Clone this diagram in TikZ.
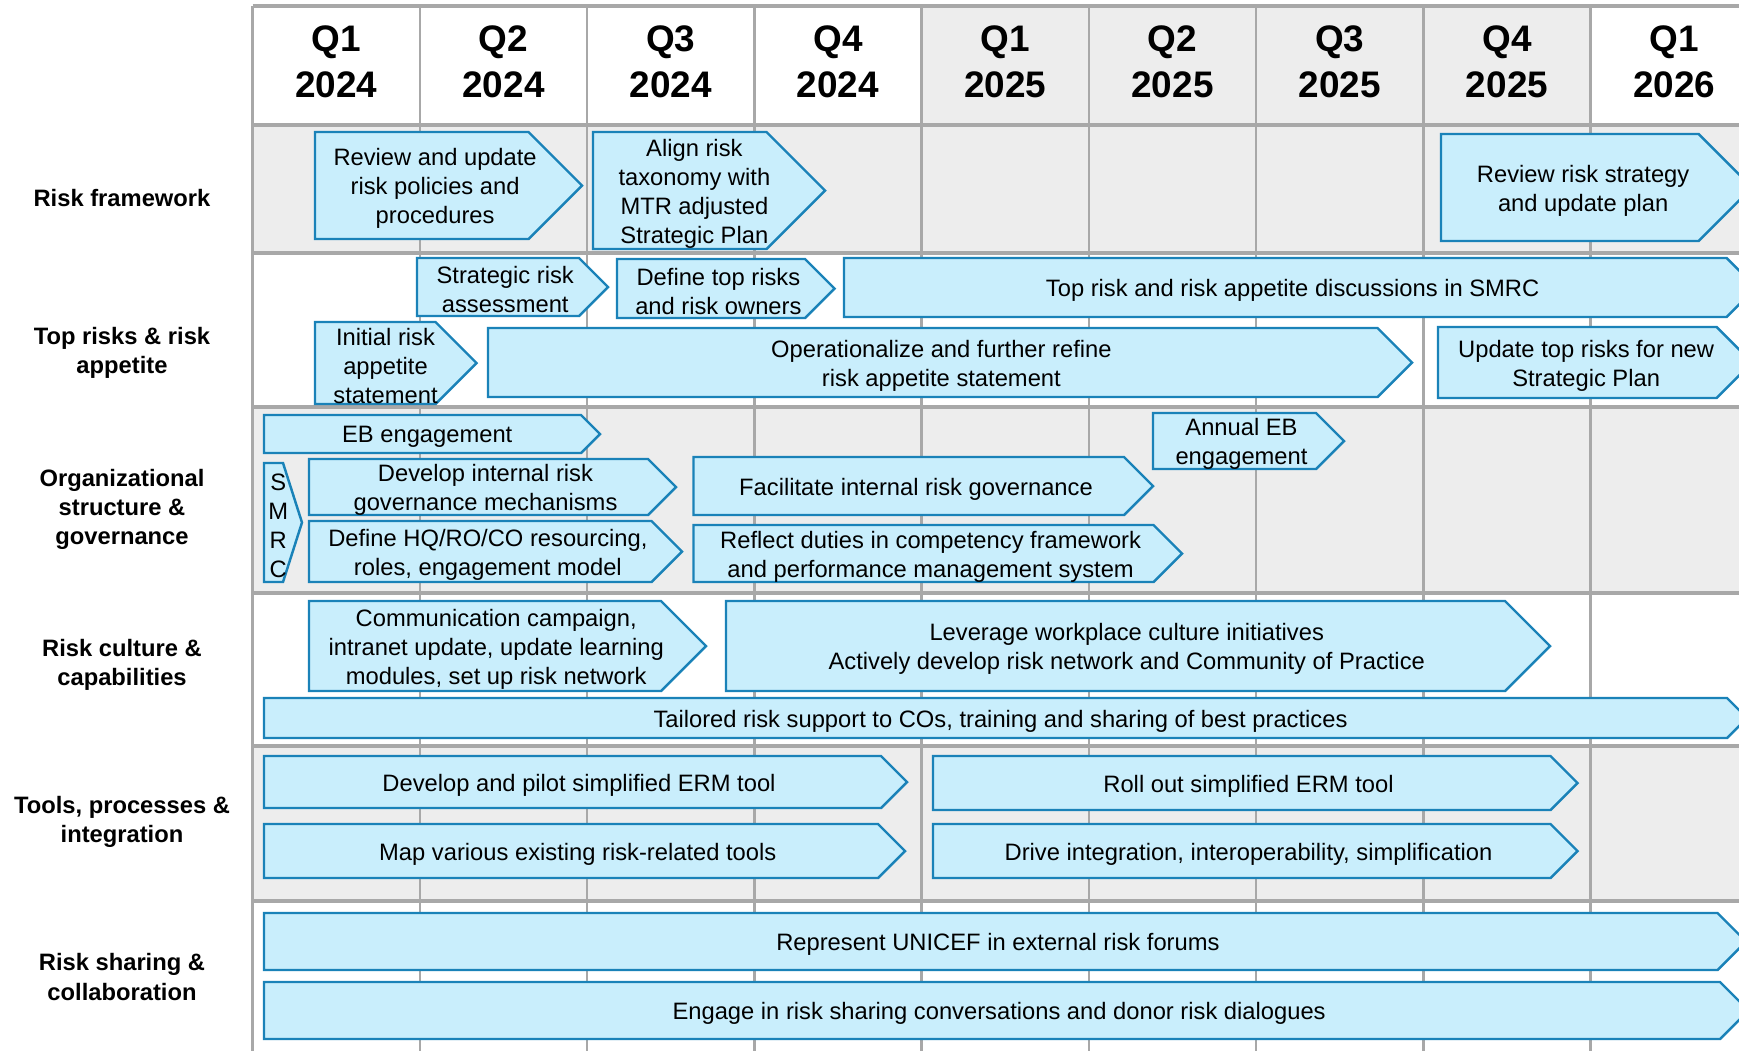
\documentclass[tikz,border=0pt]{standalone}
\usepackage{fontspec}
\setmainfont{Liberation Sans}
\usepackage{tikz}

\definecolor{gridgray}{HTML}{A8A8A8}
\definecolor{cellgray}{HTML}{EDEDED}
\definecolor{phasefill}{HTML}{C9EEFC}
\definecolor{phaseline}{HTML}{1A82B8}

% #1 名字, #2 左边, #3 箭头尖, #4 上边, #5 下边, #6 文字
\newcommand{\riskstep}[6]{%
    \pgfmathsetmacro{\stepd}{min(#3-#2,#5-#4)/2}%
    \pgfmathsetmacro{\stepm}{(#4+#5)/2}%
    \pgfmathsetmacro{\stepc}{(#2+#3-\stepd/2)/2}%
    \draw[phase] (#2,#4) -- ({#3-\stepd},#4) -- (#3,\stepm) -- ({#3-\stepd},#5) -- (#2,#5) -- cycle;
    \node[phasetext] (#1) at (\stepc,\stepm+3) {#6};
}

\begin{document}
\begin{tikzpicture}[x=0.01cm,y=-0.01cm,
    phase/.style={fill=phasefill,draw=phaseline,line width=0.7pt},
    phasetext/.style={align=center,inner sep=0pt,font=\fontsize{6.75}{8.25}\selectfont},
    rowlabel/.style={align=center,inner sep=0pt,font=\fontsize{6.75}{8.25}\selectfont\bfseries},
    quarter/.style={align=center,inner sep=0pt,font=\fontsize{10.5}{13}\selectfont\bfseries}]
    \clip (0,0) rectangle (1739,1051);
    \fill[white] (0,0) rectangle (1739,1051);

% 灰色底
    \fill[cellgray] (921.6,7) rectangle (1590.6,125);
    \fill[cellgray] (252.6,125) rectangle (1739,253);
    \fill[cellgray] (252.6,407) rectangle (1739,593);
    \fill[cellgray] (252.6,746) rectangle (1739,901);

% 网格线
    \draw[gridgray,line width=0.75pt] (419.85,7) -- (419.85,1051);
    \draw[gridgray,line width=0.75pt] (587.1,7) -- (587.1,1051);
    \draw[gridgray,line width=0.75pt] (754.35,7) -- (754.35,1051);
    \draw[gridgray,line width=0.75pt] (921.6,7) -- (921.6,1051);
    \draw[gridgray,line width=0.75pt] (1088.85,7) -- (1088.85,1051);
    \draw[gridgray,line width=0.75pt] (1256.1,7) -- (1256.1,1051);
    \draw[gridgray,line width=0.75pt] (1423.35,7) -- (1423.35,1051);
    \draw[gridgray,line width=0.75pt] (1590.6,7) -- (1590.6,1051);
    \draw[gridgray,line width=1pt] (252.6,6) -- (252.6,1051);
    \draw[gridgray,line width=1pt] (252.6,6) -- (1739,6);
    \draw[gridgray,line width=1.1pt] (252.6,125) -- (1739,125);
    \draw[gridgray,line width=1.1pt] (252.6,253) -- (1739,253);
    \draw[gridgray,line width=1.1pt] (252.6,407) -- (1739,407);
    \draw[gridgray,line width=1.1pt] (252.6,593) -- (1739,593);
    \draw[gridgray,line width=1.1pt] (252.6,746) -- (1739,746);
    \draw[gridgray,line width=1.1pt] (252.6,901) -- (1739,901);

% 季度
    \node[quarter] (q1a) at (336.2,62) {Q1\\2024};
    \node[quarter] (q2a) at (503.5,62) {Q2\\2024};
    \node[quarter] (q3a) at (670.7,62) {Q3\\2024};
    \node[quarter] (q4a) at (838,62) {Q4\\2024};
    \node[quarter] (q1b) at (1005.2,62) {Q1\\2025};
    \node[quarter] (q2b) at (1172.5,62) {Q2\\2025};
    \node[quarter] (q3b) at (1339.7,62) {Q3\\2025};
    \node[quarter] (q4b) at (1507,62) {Q4\\2025};
    \node[quarter] (q1c) at (1674.2,62) {Q1\\2026};

% 行标题
    \node[rowlabel] (framework) at (122,198) {Risk framework};
    \node[rowlabel] (toprisks) at (122,353) {Top risks \& risk\\appetite};
    \node[rowlabel] (structure) at (122,509) {Organizational\\structure \&\\governance};
    \node[rowlabel] (culture) at (122,665) {Risk culture \&\\capabilities};
    \node[rowlabel] (tools) at (122,822) {Tools, processes \&\\integration};
    \node[rowlabel] (sharing) at (122,977) {Risk sharing \&\\collaboration};

% Risk framework
    \riskstep{rfpolicy}{315}{582}{132}{239}{Review and update\\risk policies and\\procedures}
    \riskstep{rftaxonomy}{593}{825}{132}{249}{Align risk\\taxonomy with\\MTR adjusted\\Strategic Plan}
    \riskstep{rfstrategy}{1441}{1752}{134}{241}{Review risk strategy\\and update plan}

% Top risks & risk appetite
    \riskstep{trassess}{417}{608}{258}{316}{Strategic risk\\assessment}
    \riskstep{trowners}{617}{834.5}{259}{318}{Define top risks\\and risk owners}
    \riskstep{trsmrc}{844}{1756}{258}{317}{Top risk and risk appetite discussions in SMRC}
    \riskstep{trinitial}{315}{476.5}{322}{404}{Initial risk\\appetite\\statement}
    \riskstep{trrefine}{488}{1412}{328}{397}{Operationalize and further refine\\risk appetite statement}
    \riskstep{trupdate}{1438}{1752}{327}{398}{Update top risks for new\\Strategic Plan}

% Organizational structure & governance
    \riskstep{ogeb}{264}{600}{415}{453}{EB engagement}
    \riskstep{ogsmrc}{264}{302}{463}{582}{S\\M\\R\\C}
    \riskstep{ogdevelop}{309}{676}{459}{515}{Develop internal risk\\governance mechanisms}
    \riskstep{ogdefine}{309}{682}{521}{582}{Define HQ/RO/CO resourcing,\\roles, engagement model}
    \riskstep{ogannual}{1153}{1344}{413}{469}{Annual EB\\engagement}
    \riskstep{ogfacilitate}{693.5}{1153}{457}{515}{Facilitate internal risk governance}
    \riskstep{ogreflect}{693.5}{1182}{525}{582}{Reflect duties in competency framework\\and performance management system}

% Risk culture & capabilities
    \riskstep{rccomm}{309}{706}{601}{691}{Communication campaign,\\intranet update, update learning\\modules, set up risk network}
    \riskstep{rcleverage}{726}{1550}{601}{691}{Leverage workplace culture initiatives\\Actively develop risk network and Community of Practice}
    \riskstep{rctailored}{264}{1747}{698}{738}{Tailored risk support to COs, training and sharing of best practices}

% Tools, processes & integration
    \riskstep{tpdevelop}{264}{907}{756}{808}{Develop and pilot simplified ERM tool}
    \riskstep{tpmap}{264}{905}{824}{878}{Map various existing risk-related tools}
    \riskstep{tproll}{933}{1577.5}{756}{810}{Roll out simplified ERM tool}
    \riskstep{tpdrive}{933}{1577.5}{824}{878}{Drive integration, interoperability, simplification}

% Risk sharing & collaboration
    \riskstep{rsrepresent}{264}{1746}{913}{970}{Represent UNICEF in external risk forums}
    \riskstep{rsengage}{264}{1748.5}{982}{1039}{Engage in risk sharing conversations and donor risk dialogues}
\end{tikzpicture}
\end{document}
